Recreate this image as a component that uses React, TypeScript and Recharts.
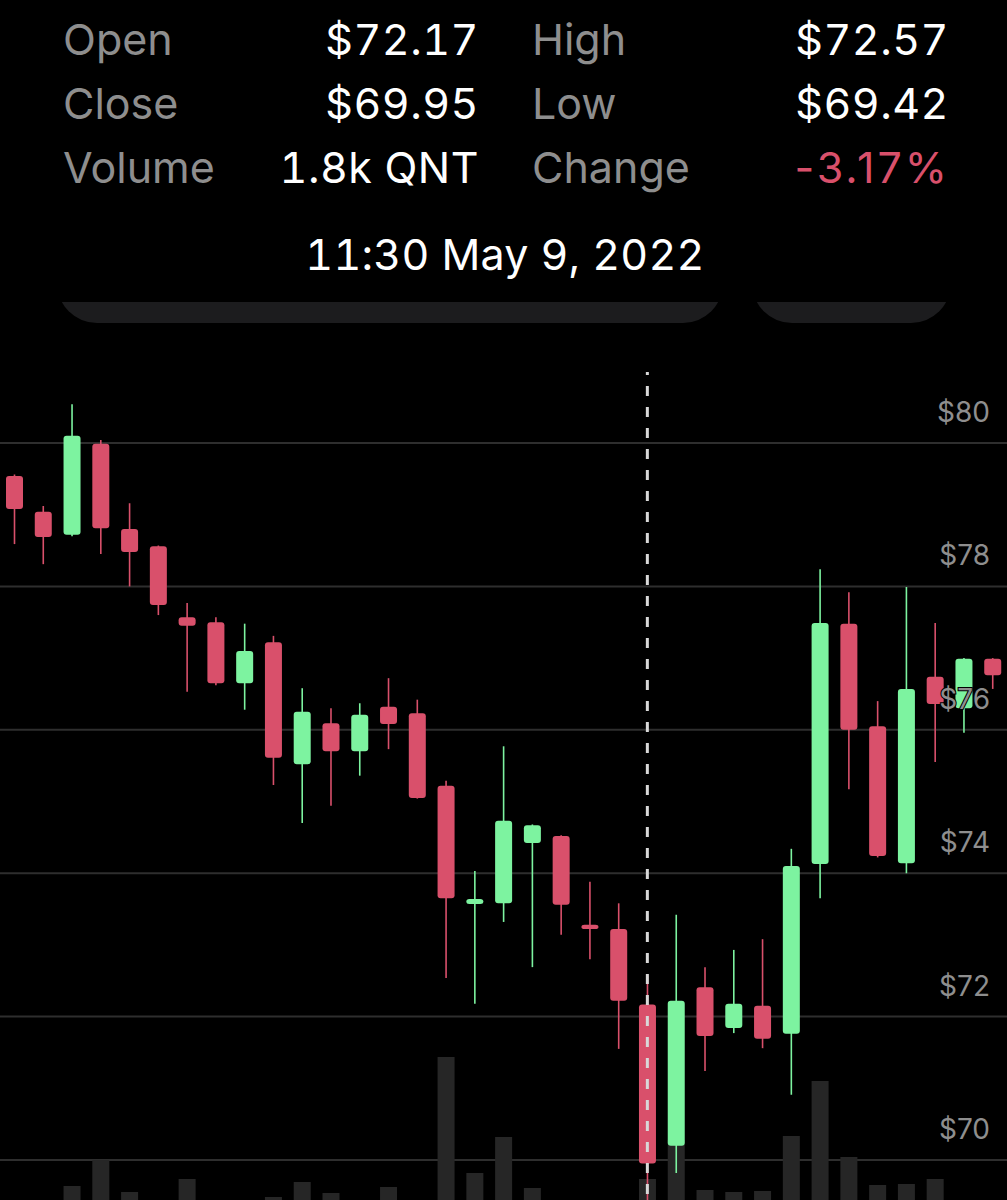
import React from 'react';
import {
  ComposedChart,
  Bar,
  XAxis,
  YAxis,
  CartesianGrid,
  ReferenceLine,
} from 'recharts';

const times = [
  '00:30', '01:00', '01:30', '02:00', '02:30', '03:00', '03:30', '04:00', '04:30',
  '05:00', '05:30', '06:00', '06:30', '07:00', '07:30', '08:00', '08:30', '09:00',
  '09:30', '10:00', '10:30', '11:00', '11:30', '12:00', '12:30', '13:00', '13:30',
  '14:00', '14:30', '15:00', '15:30', '16:00', '16:30', '17:00', '17:30',
];
const opens = [
  79.54, 79.04, 78.72, 79.99, 78.8, 78.56, 77.57, 77.5, 76.65, 77.22, 75.52, 76.09,
  75.7, 76.32, 76.23, 75.22, 73.57, 73.58, 74.42, 74.52, 73.28, 73.22, 72.17, 70.2,
  72.41, 71.84, 72.15, 71.76, 74.13, 77.48, 76.05, 74.14, 76.74, 76.3, 76.99,
];
const highs = [
  79.56, 79.12, 80.54, 80.04, 79.16, 78.57, 77.77, 77.57, 77.48, 77.31, 76.58, 76.3,
  76.37, 76.72, 76.42, 75.29, 74.03, 75.77, 74.68, 74.53, 73.88, 73.58, 72.57, 73.42,
  72.69, 72.93, 73.08, 74.34, 78.24, 77.92, 76.4, 77.99, 77.49, 77.0, 77.0,
];
const lows = [
  78.59, 78.31, 78.7, 78.45, 78.0, 77.6, 76.53, 76.62, 76.28, 75.23, 74.7, 74.94,
  75.36, 75.73, 75.04, 72.54, 72.18, 73.32, 72.69, 73.14, 72.8, 71.55, 69.42, 69.82,
  71.24, 71.77, 71.56, 70.91, 73.65, 75.17, 74.22, 74.0, 75.55, 75.96, 76.57,
];
const closes = [
  79.08, 78.69, 80.1, 78.81, 78.48, 77.74, 77.45, 76.65, 77.1, 75.61, 76.25, 75.7,
  76.21, 76.08, 75.05, 73.65, 73.64, 74.73, 74.67, 73.56, 73.22, 72.22, 69.95, 72.22,
  71.73, 72.18, 71.69, 74.1, 77.49, 76.0, 74.24, 76.57, 76.36, 76.99, 76.76,
];
// volume in k QNT
const volumes = [
  0.6, 0.6, 1.45, 2.75, 1.15, 0.6, 1.8, 0.6, 0.6, 0.9, 1.65, 1.1, 0.6, 1.4, 0.6, 7.9,
  2.1, 3.9, 1.35, 0.6, 0.6, 0.6, 1.8, 3.75, 1.25, 1.15, 1.2, 3.95, 6.7, 2.9, 1.5, 1.55,
  1.8, 0.6, 0.6,
];
const priceTicks = [70, 72, 74, 76, 78, 80];
const selectedIndex = 22;

const statLabels = ['Open', 'Close', 'Volume'];
const statValues = ['$72.17', '$69.95', '1.8k QNT'];
const statLabels2 = ['High', 'Low', 'Change'];
const statValues2 = ['$72.57', '$69.42', '-3.17%'];
const dateLabel = '11:30 May 9, 2022';

const GREEN = '#7DF3A0';
const RED = '#D9506B';
const GRAY = '#8E8E8E';

const data = times.map((t, i) => ({
  time: t,
  open: opens[i],
  high: highs[i],
  low: lows[i],
  close: closes[i],
  volume: volumes[i],
}));

const Candle = (props: any) => {
  const { x, y, width, height, payload } = props;
  const { open, close, high, low } = payload;
  const color = close >= open ? GREEN : RED;
  const top = Math.min(y, y + height);
  const h = Math.abs(height);
  const ratio = h / (high - low);
  const yOf = (p: number) => top + (high - p) * ratio;
  const cx = x + width / 2;
  const bodyTop = yOf(Math.max(open, close));
  const bodyH = Math.max(yOf(Math.min(open, close)) - bodyTop, 4);
  return (
    <g>
      <line x1={cx} x2={cx} y1={top} y2={top + h} stroke={color} strokeWidth={1.6} />
      <rect x={x} y={bodyTop} width={width} height={bodyH} rx={3} ry={3} fill={color} />
    </g>
  );
};

const PriceTick = (props: any) => {
  const { y, payload } = props;
  return (
    <text
      x={990}
      y={y - 21}
      textAnchor="end"
      fill={GRAY}
      fontSize={28}
      fontFamily="Inter"
      stroke="#000"
      strokeWidth={2}
      paintOrder="stroke"
    >
      ${payload.value}
    </text>
  );
};

const Pill = ({ left, width }: { left: number; width: number }) => (
  <div
    style={{
      position: 'absolute',
      left,
      top: 302,
      width,
      height: 21,
      overflow: 'hidden',
    }}
  >
    <div
      style={{
        marginTop: -59,
        height: 80,
        width,
        borderRadius: 40,
        background: '#1C1C1E',
      }}
    />
  </div>
);

const headText = {
  fontSize: 43,
  fontFamily: 'Inter',
  style: { fontVariantNumeric: 'tabular-nums' },
} as const;

export default function App() {
  return (
    <div
      style={{
        position: 'relative',
        width: 1007,
        height: 1200,
        background: '#000',
        overflow: 'hidden',
        fontFamily: 'Inter, sans-serif',
      }}
    >
      <style>{'body{margin:0;background:#000}'}</style>
      <svg width={1007} height={300} style={{ position: 'absolute', left: 0, top: 0 }}>
        {statLabels.map((s, i) => (
          <text key={s} x={63} y={55 + i * 64} fill={GRAY} {...headText}>
            {s}
          </text>
        ))}
        {statValues.map((s, i) => (
          <text key={s} x={479} y={55 + i * 64} textAnchor="end" fill="#fff" letterSpacing={0.5} {...headText}>
            {s}
          </text>
        ))}
        {statLabels2.map((s, i) => (
          <text key={s} x={532} y={55 + i * 64} fill={GRAY} {...headText}>
            {s}
          </text>
        ))}
        {statValues2.map((s, i) => {
          const neg = s.startsWith('-');
          return (
            <text
              key={s}
              x={neg ? 950 : 949}
              y={55 + i * 64}
              textAnchor="end"
              fill={neg ? RED : '#fff'}
              letterSpacing={neg ? 3 : 0.5}
              fontSize={43}
              fontFamily="Inter"
              style={neg ? undefined : { fontVariantNumeric: 'tabular-nums' }}
            >
              {s}
            </text>
          );
        })}
        <text x={505} y={270} textAnchor="middle" fill="#fff" letterSpacing={0.25} {...headText}>
          {dateLabel}
        </text>
      </svg>
      <Pill left={57} width={666} />
      <Pill left={752} width={199} />
      <div style={{ position: 'absolute', left: 0, top: 372 }}>
        <ComposedChart
          width={1007}
          height={843}
          data={data}
          margin={{ top: 0, right: 0, left: 0, bottom: 0 }}
        >
          <XAxis xAxisId="vol" dataKey="time" hide padding={{ left: 0, right: 0 }} />
          <XAxis xAxisId="price" dataKey="time" hide padding={{ left: 0, right: 0 }} />
          <YAxis yAxisId="vol" hide domain={[0, 42.15]} />
          <YAxis
            yAxisId="price"
            orientation="right"
            mirror
            width={60}
            type="number"
            domain={[69.233, 80.99]}
            ticks={priceTicks}
            interval={0}
            allowDataOverflow
            axisLine={false}
            tickLine={false}
            tick={<PriceTick />}
          />
          <CartesianGrid
            xAxisId="price"
            yAxisId="price"
            vertical={false}
            horizontalValues={priceTicks}
            stroke="#2E2E2E"
            strokeWidth={2}
          />
          <Bar
            xAxisId="vol"
            yAxisId="vol"
            dataKey="volume"
            fill="#262626"
            barSize={17}
            isAnimationActive={false}
          />
          <Bar
            xAxisId="price"
            yAxisId="price"
            dataKey={(d: any) => [d.low, d.high]}
            barSize={17}
            shape={<Candle />}
            isAnimationActive={false}
          />
          <ReferenceLine
            xAxisId="price"
            yAxisId="price"
            x={times[selectedIndex]}
            stroke="#D8D8D8"
            strokeWidth={3}
            strokeDasharray="10 11"
          />
        </ComposedChart>
      </div>
    </div>
  );
}
